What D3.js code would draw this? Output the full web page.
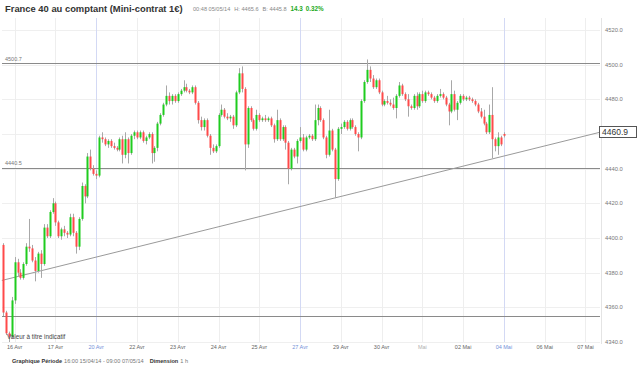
<!DOCTYPE html>
<html><head><meta charset="utf-8">
<script src="https://cdn.jsdelivr.net/npm/d3@7"></script>
<style>html,body{margin:0;padding:0;background:#fff;}svg{display:block;font-family:"Liberation Sans",Arial,sans-serif;}</style>
</head><body>
<svg id="chart" width="640" height="368"></svg>
<script>
// ---- data ----
const xTickLabels = ["16 Avr","17 Avr","20 Avr","22 Avr","23 Avr","24 Avr","25 Avr","27 Avr","29 Avr","30 Avr","Mai","02 Mai","04 Mai","06 Mai","07 Mai"];
const xTickIndex = [4,18,32,46,60,74,88,102,116,130,144,158,172,186,200];
const weekLabels = ["20 Avr","27 Avr","04 Mai"];
const monthLabels = ["Mai"];
const yTicks = [4340,4360,4380,4400,4420,4440,4460,4480,4500,4520];
const levels = [4500.7, 4440.5, 4354.9];
const levelLabels = ["4500.7", "4440.5", ""];
const trendIndex = [-0.4, 204.7];
const trendValue = [4375.5, 4460.9];
const lastLabel = "4460.9";

const opens = [4396,4357,4345,4343,4364,4386,4380,4377,4385,4395,4394,4387,4381,4391,4385,4406,4401,4415,4420,4409,
4401,4405,4403,4402,4412,4403,4395,4411,4430,4424,4447,4440,4437,4436,4458,4457,4454,4456,4453,4452,
4451,4457,4448,4457,4449,4459,4461,4458,4461,4456,4458,4460,4449,4452,4466,4471,4477,4482,4479,4482,
4479,4483,4485,4487,4485,4484,4487,4478,4468,4464,4468,4459,4452,4450,4453,4471,4474,4470,4469,4470,
4465,4484,4495,4486,4454,4475,4468,4463,4471,4468,4469,4468,4469,4465,4457,4468,4457,4464,4455,4440,
4451,4447,4456,4458,4451,4458,4459,4457,4468,4475,4468,4458,4448,4462,4451,4434,4463,4464,4467,4463,
4468,4464,4460,4458,4479,4490,4497,4492,4487,4491,4484,4477,4479,4478,4477,4475,4482,4488,4483,4480,
4476,4475,4482,4476,4483,4479,4484,4483,4481,4479,4482,4483,4481,4477,4473,4483,4474,4478,4482,4480,
4481,4480,4479,4477,4473,4470,4466,4461,4471,4457,4453,4458,4460];
const highs = [4397,4358,4346,4366,4389,4388,4382,4386,4397,4411,4396,4389,4392,4393,4408,4408,4416,4423,4421,4410,
4406,4407,4404,4414,4414,4404,4412,4432,4431,4449,4451,4442,4439,4459,4461,4458,4457,4457,4455,4453,
4458,4459,4461,4458,4460,4462,4462,4462,4462,4459,4461,4461,4453,4467,4472,4478,4488,4484,4483,4483,
4484,4486,4491,4489,4486,4488,4488,4479,4470,4469,4469,4460,4454,4454,4472,4477,4475,4472,4471,4471,
4485,4498,4499,4487,4476,4476,4469,4474,4472,4470,4471,4470,4470,4466,4474,4469,4465,4465,4456,4452,
4452,4457,4464,4460,4459,4460,4460,4477,4477,4476,4469,4459,4474,4463,4452,4464,4466,4468,4468,4469,
4469,4465,4461,4480,4491,4503,4499,4494,4492,4492,4485,4480,4482,4480,4481,4483,4490,4489,4484,4483,
4477,4483,4484,4484,4485,4485,4485,4484,4482,4483,4486,4484,4482,4478,4491,4485,4479,4483,4483,4482,
4482,4481,4480,4478,4475,4474,4467,4477,4487,4458,4461,4459,4461];
const lows = [4355,4344,4340,4342,4362,4378,4376,4376,4384,4392,4386,4375,4380,4377,4384,4400,4400,4414,4407,4400,
4399,4401,4400,4401,4401,4391,4393,4410,4420,4423,4439,4436,4434,4435,4455,4453,4452,4452,4451,4450,
4450,4443,4446,4443,4448,4457,4457,4457,4455,4454,4457,4443,4444,4450,4465,4470,4476,4477,4477,4478,
4478,4482,4484,4484,4483,4483,4477,4466,4462,4462,4458,4448,4449,4449,4452,4470,4469,4468,4467,4463,
4464,4483,4484,4439,4452,4467,4462,4462,4467,4467,4467,4467,4464,4455,4456,4456,4456,4451,4431,4439,
4446,4443,4455,4450,4450,4457,4456,4456,4465,4467,4457,4446,4447,4450,4423,4433,4460,4463,4462,4462,
4463,4459,4450,4457,4478,4489,4490,4486,4486,4483,4476,4476,4477,4476,4474,4469,4481,4482,4479,4470,
4474,4474,4474,4475,4478,4478,4482,4480,4478,4478,4481,4480,4476,4465,4472,4473,4468,4477,4479,4479,
4479,4478,4476,4472,4469,4465,4460,4460,4446,4450,4448,4453,4458];
const closes = [4357,4345,4343,4364,4386,4380,4377,4385,4395,4394,4387,4381,4391,4385,4406,4401,4415,4420,4409,4401,
4405,4403,4402,4412,4403,4395,4411,4430,4424,4447,4440,4437,4436,4458,4457,4454,4456,4453,4452,4451,
4457,4448,4457,4449,4459,4461,4458,4461,4456,4458,4460,4449,4452,4466,4471,4477,4482,4479,4482,4479,
4483,4485,4487,4485,4484,4487,4478,4468,4464,4468,4459,4452,4450,4453,4471,4474,4470,4469,4470,4465,
4484,4495,4486,4454,4475,4468,4463,4471,4468,4469,4468,4469,4465,4457,4468,4457,4464,4455,4440,4451,
4447,4456,4458,4451,4458,4459,4457,4468,4475,4468,4458,4448,4462,4451,4434,4463,4464,4467,4463,4468,
4464,4460,4458,4479,4490,4497,4492,4487,4491,4484,4477,4479,4478,4477,4475,4482,4488,4483,4480,4476,
4475,4482,4476,4483,4479,4484,4483,4481,4479,4482,4483,4481,4477,4473,4483,4474,4478,4482,4480,4481,
4480,4479,4477,4473,4470,4466,4461,4471,4457,4453,4458,4454,4459];

// ---- layout ----
const svg = d3.select("#chart");
const W = 640, H = 368;
const plotL = 2, plotR = 600, plotT = 18, plotB = 342;
svg.append("rect").attr("width", W).attr("height", H).attr("fill", "#fff");

const x = d3.scaleLinear().domain([0, 205]).range([3, 600]);
const y = d3.scaleLinear().domain([4340, 4520]).range([342, 30]);
const boxY = y(trendValue[1]);

// horizontal grid
svg.append("g").selectAll("line").data(yTicks).join("line")
  .attr("x1", plotL).attr("x2", plotR)
  .attr("y1", d => Math.round(y(d)) + 0.5).attr("y2", d => Math.round(y(d)) + 0.5)
  .attr("stroke", "#efefef").attr("stroke-width", 1);

// vertical grid
svg.append("g").selectAll("line").data(xTickIndex).join("line")
  .attr("x1", d => Math.round(x(d)) + 0.5).attr("x2", d => Math.round(x(d)) + 0.5)
  .attr("y1", plotT).attr("y2", plotB)
  .attr("stroke", (d, i) => weekLabels.includes(xTickLabels[i]) ? "#d3d9f4" : "#eeeeee")
  .attr("stroke-width", 1);

// right axis border
svg.append("line").attr("x1", 601.5).attr("x2", 601.5).attr("y1", plotT).attr("y2", plotB + 2)
  .attr("stroke", "#e4e4e4");

// y tick labels (the one hidden under the last-value box is not shown)
svg.append("g").selectAll("text").data(yTicks.filter(d => Math.abs(y(d) - boxY) > 8)).join("text")
  .attr("x", 605).attr("y", d => y(d) + 2)
  .attr("font-size", "5.8px").attr("fill", "#777")
  .text(d => d.toFixed(1));

// x tick labels
svg.append("g").selectAll("text").data(xTickIndex).join("text")
  .attr("x", d => x(d)).attr("y", 349)
  .attr("text-anchor", "middle").attr("font-size", "5.5px")
  .attr("fill", (d, i) => weekLabels.includes(xTickLabels[i]) ? "#7390d8" : (monthLabels.includes(xTickLabels[i]) ? "#b0b0b0" : "#666"))
  .text((d, i) => xTickLabels[i]);

// level lines
svg.append("g").selectAll("line").data(levels).join("line")
  .attr("x1", plotL).attr("x2", plotR)
  .attr("y1", d => Math.round(y(d)) + 0.5).attr("y2", d => Math.round(y(d)) + 0.5)
  .attr("stroke", "#8a8a8a").attr("stroke-width", 1);
svg.append("g").selectAll("text").data(levels).join("text")
  .attr("x", 5).attr("y", d => y(d) - 2.5)
  .attr("font-size", "5.5px").attr("fill", "#777")
  .text((d, i) => levelLabels[i]);

// trend line
svg.append("line")
  .attr("x1", x(trendIndex[0])).attr("y1", y(trendValue[0]))
  .attr("x2", x(trendIndex[1])).attr("y2", y(trendValue[1]))
  .attr("stroke", "#9a9a9a").attr("stroke-width", 1);

// candles
const idx = d3.range(closes.length);
const gC = svg.append("g");
gC.selectAll("line").data(idx).join("line")
  .attr("x1", i => Math.round(x(i)) + 0.5).attr("x2", i => Math.round(x(i)) + 0.5)
  .attr("y1", i => y(highs[i])).attr("y2", i => y(lows[i]))
  .attr("stroke", "#a8a8a8").attr("stroke-width", 1);
gC.selectAll("rect").data(idx).join("rect")
  .attr("x", i => Math.round(x(i)) - 0.5)
  .attr("width", 2)
  .attr("y", i => Math.min(y(opens[i]), y(closes[i])))
  .attr("height", i => Math.max(1, Math.abs(y(opens[i]) - y(closes[i]))))
  .attr("fill", i => closes[i] >= opens[i] ? "#1fcc1f" : "#ff4a4a");

// last value box
svg.append("rect").attr("x", 599.5).attr("y", Math.round(boxY) - 5.5).attr("width", 37).attr("height", 11)
  .attr("fill", "#fff").attr("stroke", "#555").attr("stroke-width", 1);
svg.append("text").attr("x", 602).attr("y", boxY + 3).attr("font-size", "8.5px").attr("fill", "#333")
  .text(lastLabel);

// notes
svg.append("text").attr("x", 7).attr("y", 339).attr("font-size", "6.3px").attr("fill", "#444")
  .text("Valeur à titre indicatif");

// header
svg.append("text").attr("x", 5).attr("y", 12).attr("font-size", "9.4px").attr("font-weight", "bold")
  .attr("fill", "#333")
  .text("France 40 au comptant (Mini-contrat 1€)");
const hdr = svg.append("text").attr("x", 193).attr("y", 11).attr("font-size", "5.6px");
hdr.append("tspan").attr("fill", "#888").text("00:48 05/05/14");
hdr.append("tspan").attr("dx", 4).attr("fill", "#888").text("H: 4465.6");
hdr.append("tspan").attr("dx", 4).attr("fill", "#888").text("B: 4445.8");
hdr.append("tspan").attr("dx", 4).attr("fill", "#22aa22").attr("font-weight", "bold").attr("font-size", "6.3px").text("14.3");
hdr.append("tspan").attr("dx", 3).attr("fill", "#22aa22").attr("font-weight", "bold").attr("font-size", "6.3px").text("0.32%");

// footer
const ft = svg.append("text").attr("x", 12).attr("y", 363).attr("font-size", "5.6px");
ft.append("tspan").attr("font-weight", "bold").attr("fill", "#333").text("Graphique Période");
ft.append("tspan").attr("dx", 2).attr("fill", "#777").text("16:00 15/04/14 - 09:00 07/05/14");
ft.append("tspan").attr("dx", 6).attr("font-weight", "bold").attr("fill", "#333").text("Dimension");
ft.append("tspan").attr("dx", 2).attr("fill", "#777").text("1 h");
</script>
</body></html>
